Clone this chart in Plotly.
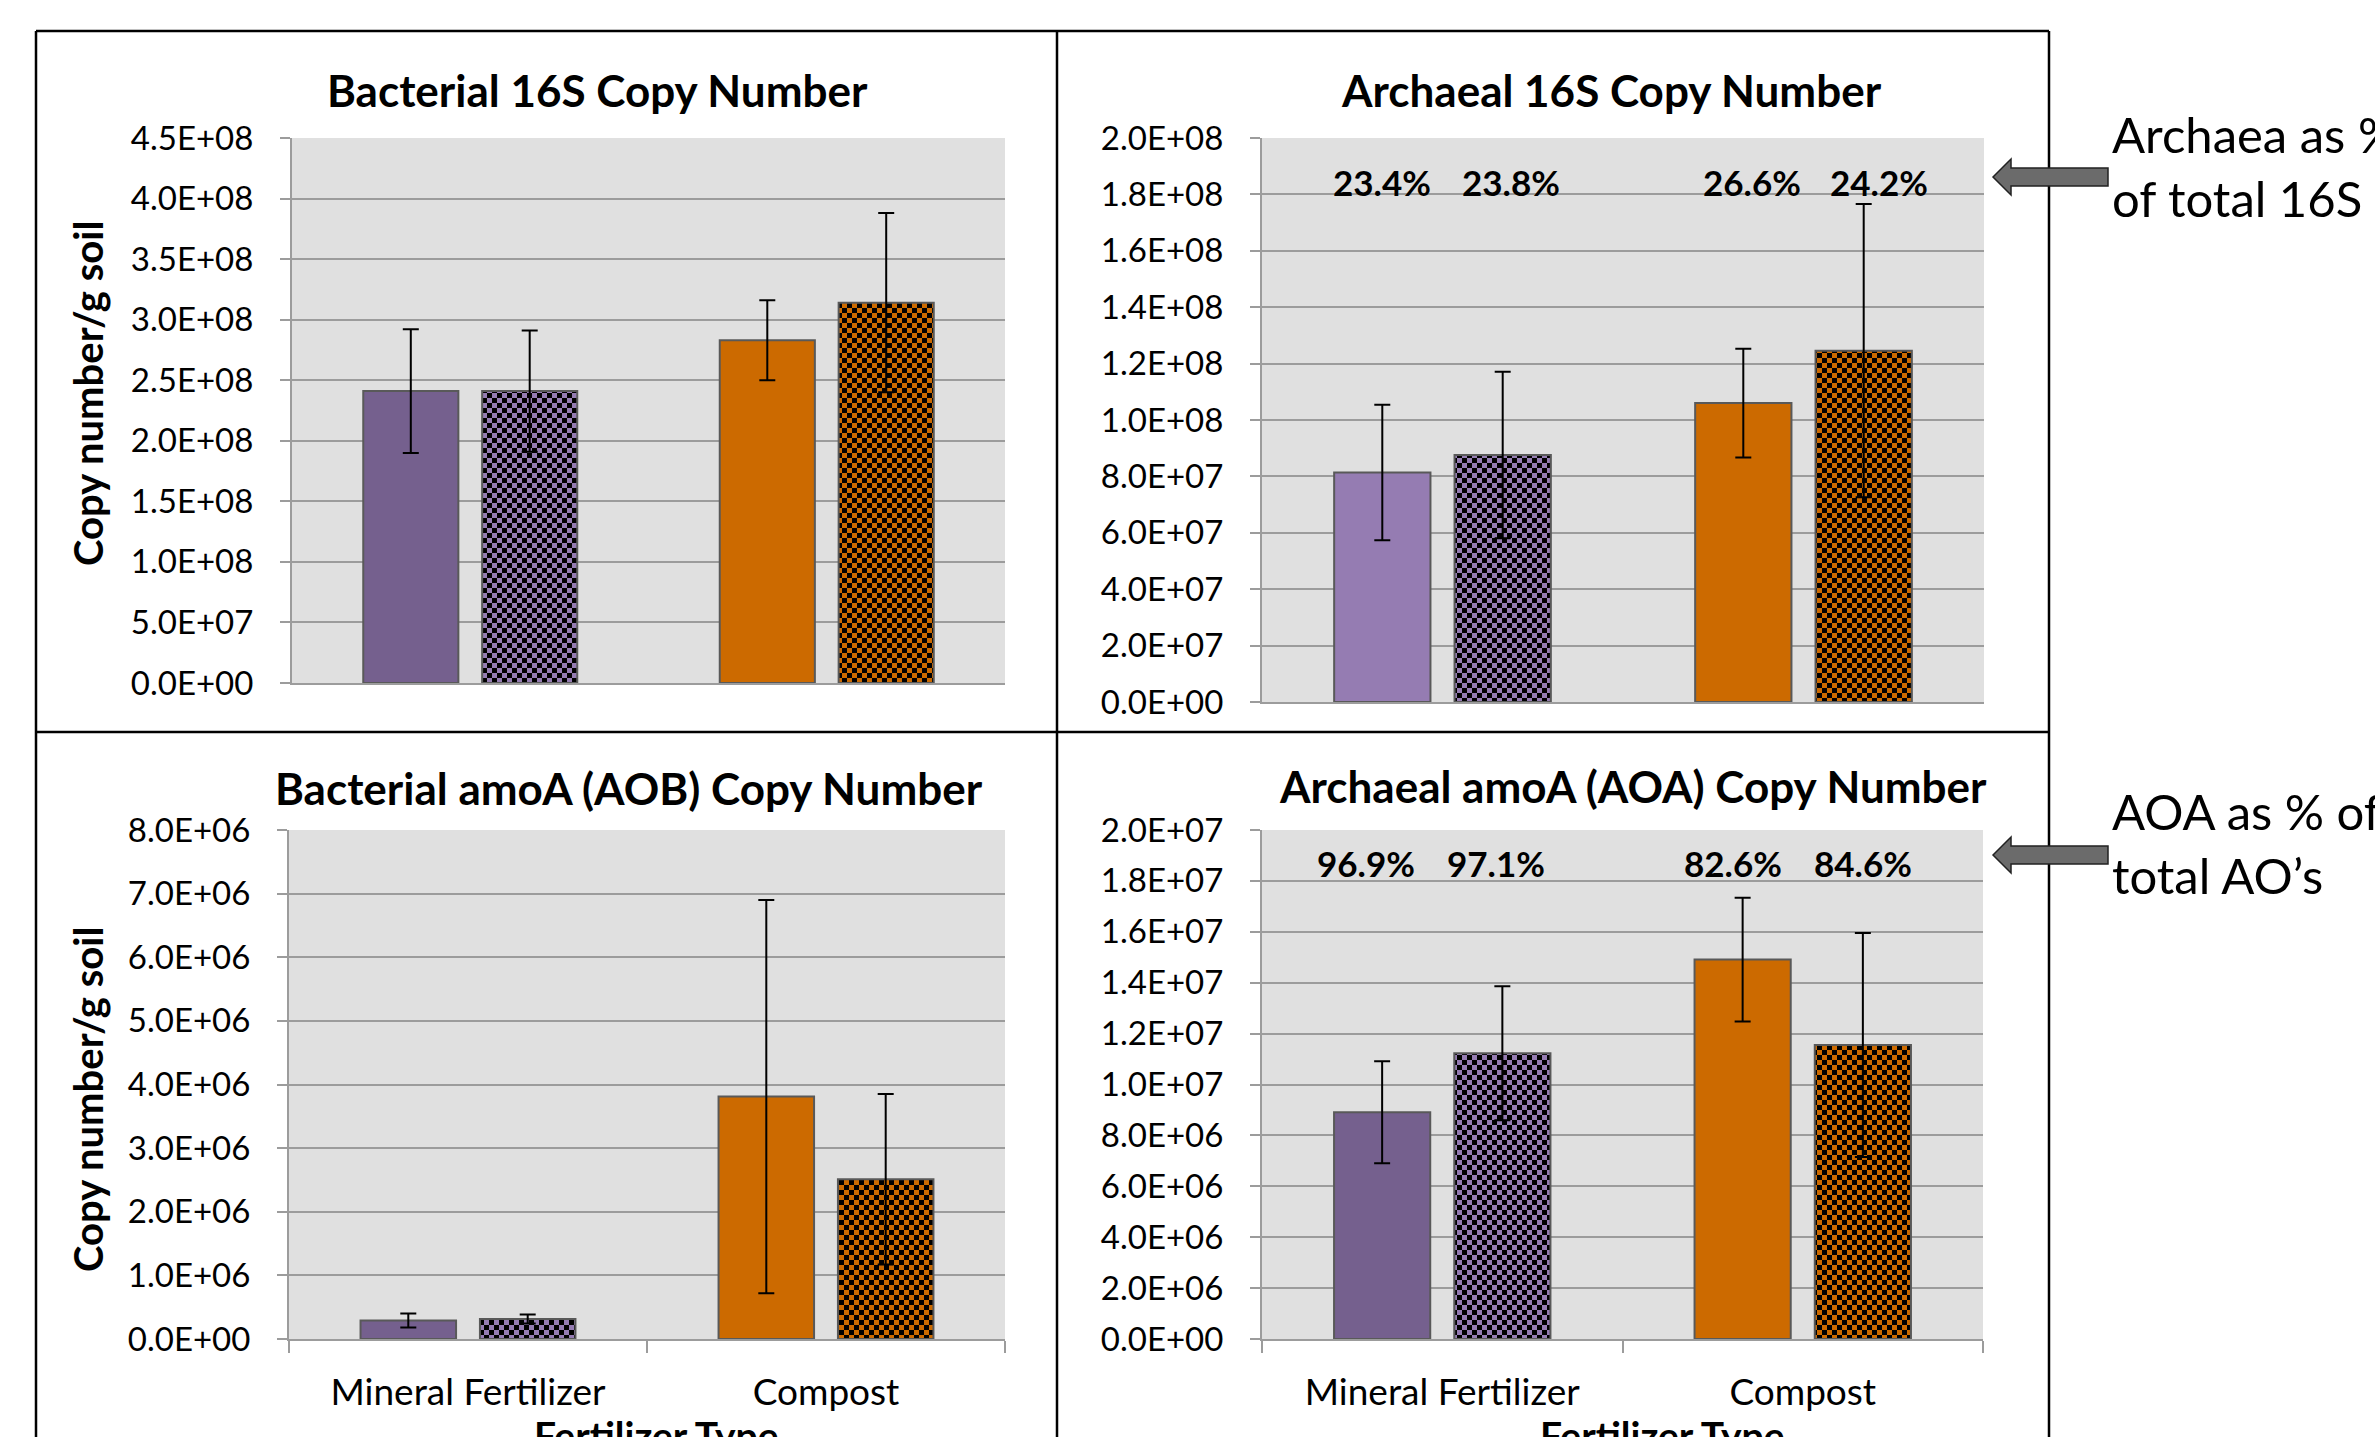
import plotly.graph_objects as go

W, H = 2375, 1437

# ---------------- data ----------------
categories = ["Mineral Fertilizer", "Compost"]

bac16s_solid = [2.41e8, 2.83e8]
bac16s_solid_err = [0.51e8, 0.33e8]
bac16s_check = [2.41e8, 3.14e8]
bac16s_check_err = [0.50e8, 0.74e8]

arc16s_solid = [8.14e7, 1.06e8]
arc16s_solid_err = [2.4e7, 1.93e7]
arc16s_check = [8.76e7, 1.246e8]
arc16s_check_err = [2.95e7, 5.2e7]

aob_solid = [2.9e5, 3.81e6]
aob_solid_err = [1.1e5, 3.09e6]
aob_check = [3.15e5, 2.51e6]
aob_check_err = [0.7e5, 1.34e6]

aoa_solid = [8.91e6, 1.491e7]
aoa_solid_err = [2.0e6, 2.43e6]
aoa_check = [1.123e7, 1.155e7]
aoa_check_err = [2.63e6, 4.4e6]

arc16s_pct = ["23.4%", "23.8%", "26.6%", "24.2%"]
aoa_pct = ["96.9%", "97.1%", "82.6%", "84.6%"]

panel_titles = ["Bacterial 16S Copy Number", "Archaeal 16S Copy Number",
                "Bacterial amoA (AOB) Copy Number", "Archaeal amoA (AOA) Copy Number"]
y_max = [4.5e8, 2.0e8, 8.0e6, 2.0e7]
y_step = [5e7, 2e7, 1e6, 2e6]
y_title = "Copy number/g soil"
x_title = "Fertilizer Type"
side_notes = ["Archaea as %<br>of total 16S", "AOA as % of<br>total AO\u2019s"]

# ---------------- style ----------------
FONT = "Lato"
DARK_PURPLE = "#75608E"
LIGHT_PURPLE = "#957CB2"
ORANGE = "#CC6A00"
GRID = "#9C9C9C"
OUTLINE = "#595959"

# panel boxes in pixels: (x0, x1, ytop, ybottom)
boxes = [(292, 1005, 138, 683), (1262, 1984, 138, 702),
         (289, 1005, 830, 1339), (1262, 1983, 830, 1339)]
solid_first_colors = [DARK_PURPLE, LIGHT_PURPLE, DARK_PURPLE, DARK_PURPLE]
check_bg_colors = [LIGHT_PURPLE, ORANGE]
solid_vals = [bac16s_solid, arc16s_solid, aob_solid, aoa_solid]
solid_errs = [bac16s_solid_err, arc16s_solid_err, aob_solid_err, aoa_solid_err]
check_vals = [bac16s_check, arc16s_check, aob_check, aoa_check]
check_errs = [bac16s_check_err, arc16s_check_err, aob_check_err, aoa_check_err]


def px(x):
    return x / W


def py(y):
    return 1 - y / H


fig = go.Figure()
layout = dict()
annotations = []
shapes = []

err_style = dict(type="data", visible=True, color="black", thickness=2, width=8)

for i in range(4):
    n = "" if i == 0 else str(i + 1)
    xa, ya = "x" + n, "y" + n
    fig.add_trace(go.Bar(
        x=categories, y=solid_vals[i], xaxis=xa, yaxis=ya, showlegend=False,
        offsetgroup="solid",
        marker=dict(color=[solid_first_colors[i], ORANGE], line=dict(color=OUTLINE, width=2)),
        error_y=dict(array=solid_errs[i], **err_style)))
    for k, cat in enumerate(categories):
        bg = check_bg_colors[k]
        fig.add_trace(go.Bar(
            x=[cat], y=[check_vals[i][k]], xaxis=xa, yaxis=ya, showlegend=False,
            offsetgroup="check",
            marker=dict(color=bg, line=dict(color=OUTLINE, width=2),
                        pattern=dict(shape="+", fgcolor="black", bgcolor=bg,
                                     size=10, solidity=0.5)),
            error_y=dict(array=[check_errs[i][k]], **err_style)))

    x0, x1, yt, yb = boxes[i]
    bottom = i >= 2
    ticks = []
    v = 0.0
    while v <= y_max[i] * 1.0001:
        ticks.append(v)
        v += y_step[i]
    layout["xaxis" + n] = dict(
        domain=[px(x0), px(x1)], anchor=ya, type="category",
        categoryorder="array", categoryarray=categories,
        showline=True, linecolor=GRID, linewidth=2, showgrid=False,
        ticks="outside" if bottom else "", tickson="boundaries", ticklen=12,
        tickwidth=2, tickcolor=GRID, showticklabels=bottom,
        tickfont=dict(family=FONT, size=37, color="black"),
        ticklabelstandoff=20, fixedrange=True)
    layout["yaxis" + n] = dict(
        domain=[py(yb), py(yt)], anchor=xa, range=[0, y_max[i]],
        tickvals=ticks, ticktext=[f"{t:.1E}" for t in ticks],
        showgrid=True, gridcolor=GRID, gridwidth=2, zeroline=False,
        showline=True, linecolor=GRID, linewidth=2,
        ticks="outside", ticklen=10, tickwidth=2, tickcolor=GRID,
        tickfont=dict(family=FONT, size=33, color="black"),
        ticklabelstandoff=20, fixedrange=True)

# titles
title_pos = [(597, 90), (1611, 90), (629, 788), (1633, 786)]
for t, (tx, ty) in zip(panel_titles, title_pos):
    annotations.append(dict(text=t, x=px(tx), y=py(ty), xref="paper", yref="paper",
                            xanchor="center", yanchor="middle", showarrow=False,
                            font=dict(family=FONT, size=44, color="black", weight="bold")))

# y titles
for ty in [394, 1100]:
    annotations.append(dict(text=y_title, x=px(88), y=py(ty), xref="paper", yref="paper",
                            xanchor="center", yanchor="middle", textangle=-90, showarrow=False,
                            font=dict(family=FONT, size=40, color="black", weight="bold")))

# x titles (cut off at bottom as in the original)
for tx in [656, 1662]:
    annotations.append(dict(text=x_title, x=px(tx), y=py(1410), xref="paper", yref="paper",
                            xanchor="center", yanchor="top", showarrow=False,
                            font=dict(family=FONT, size=39, color="black", weight="bold")))

# percentage labels (small pixel nudges to match the original placement)
pct_shift = {"2": [0, 8, 9, 15], "4": [-16, -6, -10, 0]}
for labels, n, ly in [(arc16s_pct, "2", 182), (aoa_pct, "4", 863)]:
    for k, lab in enumerate(labels):
        ci = k // 2
        off = -0.167 if k % 2 == 0 else 0.167
        annotations.append(dict(text=lab, x=ci + off, y=py(ly), xref="x" + n, yref="paper",
                                xshift=pct_shift[n][k],
                                xanchor="center", yanchor="middle", showarrow=False,
                                font=dict(family=FONT, size=35, color="black", weight="bold")))

# side notes
for note, ny in zip(side_notes, [166, 843]):
    annotations.append(dict(text=note, x=px(2110), y=py(ny), xref="paper", yref="paper",
                            xanchor="left", yanchor="middle", align="left", showarrow=False,
                            font=dict(family=FONT, size=49, color="black")))

# block arrows
for cy in [177, 855]:
    tip, hb, tail = 1993, 2011, 2108
    pts = [(tip, cy), (hb, cy - 18), (hb, cy - 9), (tail, cy - 9), (tail, cy + 9),
           (hb, cy + 9), (hb, cy + 18)]
    path = "M " + " L ".join(f"{px(a):.5f},{py(b):.5f}" for a, b in pts) + " Z"
    shapes.append(dict(type="path", path=path, xref="paper", yref="paper",
                       fillcolor="#6B6B6B", line=dict(color="#222222", width=1.5), layer="above"))

# outer frame lines
frame_lines = [(36, 31, 2049, 31), (36, 732, 2049, 732), (36, 31, 36, H),
               (1057, 31, 1057, H), (2049, 31, 2049, H)]
for a, b, c, d in frame_lines:
    shapes.append(dict(type="line", x0=px(a), y0=py(b), x1=px(c), y1=py(d),
                       xref="paper", yref="paper", line=dict(color="black", width=2.5),
                       layer="below"))

fig.update_layout(
    width=W, height=H, margin=dict(l=0, r=0, t=0, b=0, pad=0, autoexpand=False),
    paper_bgcolor="white", plot_bgcolor="#E0E0E0",
    barmode="group", bargap=0.333, bargroupgap=0.2,
    font=dict(family=FONT, color="black"),
    annotations=annotations, shapes=shapes, **layout)

checker_js = """
(function(){
  document.body.style.margin = '0';
  document.body.style.padding = '0';
  var gd = document.getElementById('{plot_id}');
  var ns = 'http://www.w3.org/2000/svg';
  function fix(){
    var pats = gd.querySelectorAll('pattern');
    pats.forEach(function(p){
      if(p.getAttribute('data-checker')) return;
      var r = p.querySelector('rect');
      var bg = r ? r.getAttribute('fill') : '#957CB2';
      var s = 5;
      p.setAttribute('width', 2*s); p.setAttribute('height', 2*s);
      while(p.firstChild) p.removeChild(p.firstChild);
      function rect(x,y,w,h,f){
        var e = document.createElementNS(ns,'rect');
        e.setAttribute('x',x); e.setAttribute('y',y);
        e.setAttribute('width',w); e.setAttribute('height',h);
        e.setAttribute('fill',f); p.appendChild(e);
      }
      rect(0,0,2*s,2*s,bg); rect(0,0,s,s,'#000000'); rect(s,s,s,s,'#000000');
      p.setAttribute('data-checker','1');
    });
  }
  fix();
  if(gd && gd.on){ gd.on('plotly_afterplot', fix); }
  setTimeout(fix, 50); setTimeout(fix, 400);
})();
"""

fig.write_html("out.html", post_script=checker_js, config={"displayModeBar": False})
